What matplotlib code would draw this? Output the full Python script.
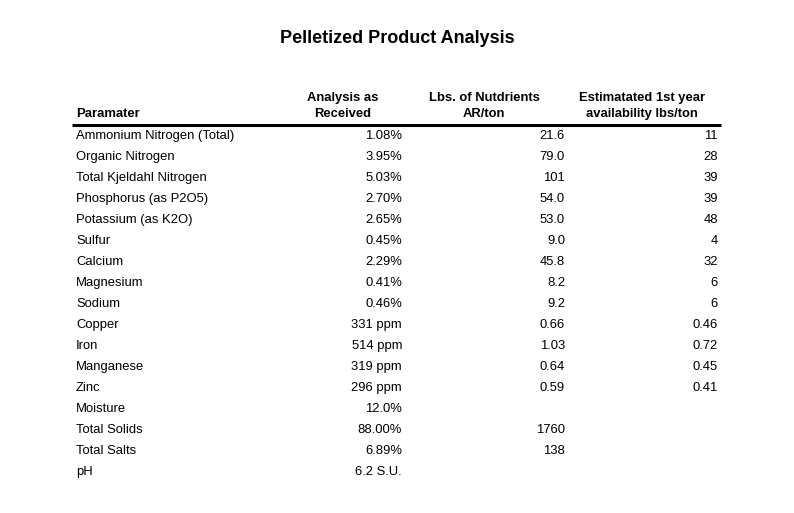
import matplotlib.pyplot as plt

plt.rcParams['font.family'] = ['Liberation Sans', 'DejaVu Sans']

# table contents
parameters = ["Ammonium Nitrogen (Total)", "Organic Nitrogen", "Total Kjeldahl Nitrogen",
              "Phosphorus (as P2O5)", "Potassium (as K2O)", "Sulfur", "Calcium", "Magnesium",
              "Sodium", "Copper", "Iron", "Manganese", "Zinc", "Moisture", "Total Solids",
              "Total Salts", "pH"]
analysis = ["1.08%", "3.95%", "5.03%", "2.70%", "2.65%", "0.45%", "2.29%", "0.41%", "0.46%",
            "331 ppm", "514 ppm", "319 ppm", "296 ppm", "12.0%", "88.00%", "6.89%", "6.2 S.U."]
lbs_per_ton = ["21.6", "79.0", "101", "54.0", "53.0", "9.0", "45.8", "8.2", "9.2",
               "0.66", "1.03", "0.64", "0.59", "", "1760", "138", ""]
first_year = ["11", "28", "39", "39", "48", "4", "32", "6", "6",
              "0.46", "0.72", "0.45", "0.41", "", "", "", ""]
headers = [["Paramater"], ["Analysis as", "Received"], ["Lbs. of Nutdrients", "AR/ton"],
           ["Estimatated 1st year", "availability lbs/ton"]]

W, H = 794, 513
fig = plt.figure(figsize=(W / 100, H / 100), dpi=100)
ax = fig.add_axes([0, 0, 1, 1])
ax.set_xlim(0, W)
ax.set_ylim(H, 0)
ax.axis('off')

FS = 9.4

ax.text(397, 38.5, "Pelletized Product Analysis", ha='center', va='center',
        fontsize=13, fontweight='bold')

# header, two lines each (first column only the lower one)
ax.text(76, 114, headers[0][0], ha='left', va='center', fontsize=FS, fontweight='bold')
for x, lines in zip([343, 484, 642], headers[1:]):
    ax.text(x, 98, lines[0], ha='center', va='center', fontsize=FS, fontweight='bold')
    ax.text(x, 114, lines[1], ha='center', va='center', fontsize=FS, fontweight='bold')
ax.plot([72, 721], [124.5, 124.5], color='black', lw=2.2, solid_capstyle='butt')

# rows
row_y = 136
step = 21
for i, p in enumerate(parameters):
    y = row_y + i * step
    ax.text(76, y, p, ha='left', va='center', fontsize=FS)
    ax.text(402, y, analysis[i], ha='right', va='center', fontsize=FS)
    ax.text(565, y, lbs_per_ton[i], ha='right', va='center', fontsize=FS)
    ax.text(718, y, first_year[i], ha='right', va='center', fontsize=FS)

fig.savefig("out.png", dpi=100)
